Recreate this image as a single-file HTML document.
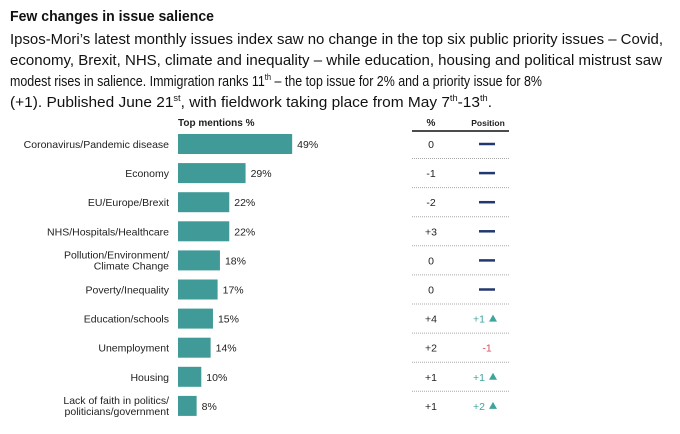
<!DOCTYPE html>
<html><head><meta charset="utf-8"><style>
html,body{margin:0;padding:0;background:#fff;}
svg{display:block;font-family:"Liberation Sans",Arial,sans-serif;}
.ln{position:absolute;left:10px;white-space:nowrap;font-family:"Liberation Sans",Arial,sans-serif;font-size:15px;color:#111;transform-origin:0 0;line-height:1;}
.ln sup{font-size:9px;vertical-align:0;position:relative;top:-6px;line-height:0;}
</style></head><body>
<div style="position:relative;width:680px;height:434px;">
<div class="ln" data-w="204" style="top:9px;font-weight:bold;">Few changes in issue salience</div>
<div class="ln" data-w="653" style="top:32px;">Ipsos-Mori’s latest monthly issues index saw no change in the top six public priority issues – Covid,</div>
<div class="ln" data-w="652" style="top:53px;">economy, Brexit, NHS, climate and inequality – while education, housing and political mistrust saw</div>
<div class="ln" data-w="532" style="top:74px;">modest rises in salience. Immigration ranks 11<sup>th</sup> – the top issue for 2% and a priority issue for 8%</div>
<div class="ln" data-w="482" style="top:95px;">(+1). Published June 21<sup>st</sup>, with fieldwork taking place from May 7<sup>th</sup>-13<sup>th</sup>.</div>
<svg id="chart" style="position:absolute;left:0;top:0" width="680" height="434" viewBox="0 0 680 434">
<text x="178" y="126" font-size="10" font-weight="bold" fill="#222">Top mentions %</text>
<text x="431" y="126" font-size="10" font-weight="bold" fill="#222" text-anchor="middle">%</text>
<text x="488" y="126" font-size="8.5" font-weight="bold" fill="#222" text-anchor="middle">Position</text>
<line x1="412" y1="131" x2="509" y2="131" stroke="#111" stroke-width="1.5"/>
<g id="bars"></g>
</svg>
</div>
<script>
const categories = [["Coronavirus/Pandemic disease"],["Economy"],["EU/Europe/Brexit"],["NHS/Hospitals/Healthcare"],["Pollution/Environment/","Climate Change"],["Poverty/Inequality"],["Education/schools"],["Unemployment"],["Housing"],["Lack of faith in politics/","politicians/government"]];
const values = [49,29,22,22,18,17,15,14,10,8];
const changes = ["0","-1","-2","+3","0","0","+4","+2","+1","+1"];
const positions = [0,0,0,0,0,0,1,-1,1,2];
document.querySelectorAll('.ln').forEach(el=>{
  const w=el.getBoundingClientRect().width;
  el.style.transform='scaleX('+(parseFloat(el.dataset.w)/w)+')';
});
const NS="http://www.w3.org/2000/svg";
const g=document.getElementById('bars');
const x0=178, pxPer=2.33;
function xScale(v){return x0+v*pxPer;}
function yScale(i){return 144+i*29.1;}
function mk(tag,attrs){const e=document.createElementNS(NS,tag);for(const k in attrs)e.setAttribute(k,attrs[k]);g.appendChild(e);return e;}
categories.forEach((lab,i)=>{
  const cy=yScale(i);
  const r=mk('rect',{x:x0,y:cy-10,width:xScale(values[i])-x0,height:20,fill:'#3f9a98'});
  
  
  const t=mk('text',{x:169,y:lab.length>1?cy-2:cy+4,'font-size':10.5,fill:'#222','text-anchor':'end'});
  
  
  lab.forEach((s,j)=>{const ts=document.createElementNS(NS,'tspan');ts.setAttribute('x',169);if(j)ts.setAttribute('dy',11);ts.textContent=s;t.appendChild(ts);});
  const v=mk('text',{x:xScale(values[i])+5,y:cy+4,'font-size':10.5,fill:'#222'});
  v.textContent=values[i]+'%';
  
  
  const c=mk('text',{x:431,y:cy+4,'font-size':10.5,fill:'#222','text-anchor':'middle'});
  c.textContent=changes[i];
  
  
  const p=positions[i];
  if(p===0){
    const l=mk('line',{x1:479,x2:495,y1:cy,y2:cy,stroke:'#22386e','stroke-width':2.5});
    
    
  } else {
    const col=p>0?'#3fa59a':'#e0475b';
    const pt=mk('text',{x:p>0?485:487,y:cy+4,'font-size':10.5,fill:col,'text-anchor':p>0?'end':'middle'});
    pt.textContent=(p>0?'+':'')+p;
    
    
    if(p>0){
      const tri=mk('path',{d:`M489 ${cy+3} L497 ${cy+3} L493 ${cy-4} Z`,fill:col});
      
      
    }
  }
  if(i<categories.length-1){
    const d=mk('line',{x1:412,x2:509,y1:cy+14.5,y2:cy+14.5,stroke:'#aaa','stroke-width':1,'stroke-dasharray':'1,1'});
    
    
  }
});
</script>
</body></html>
